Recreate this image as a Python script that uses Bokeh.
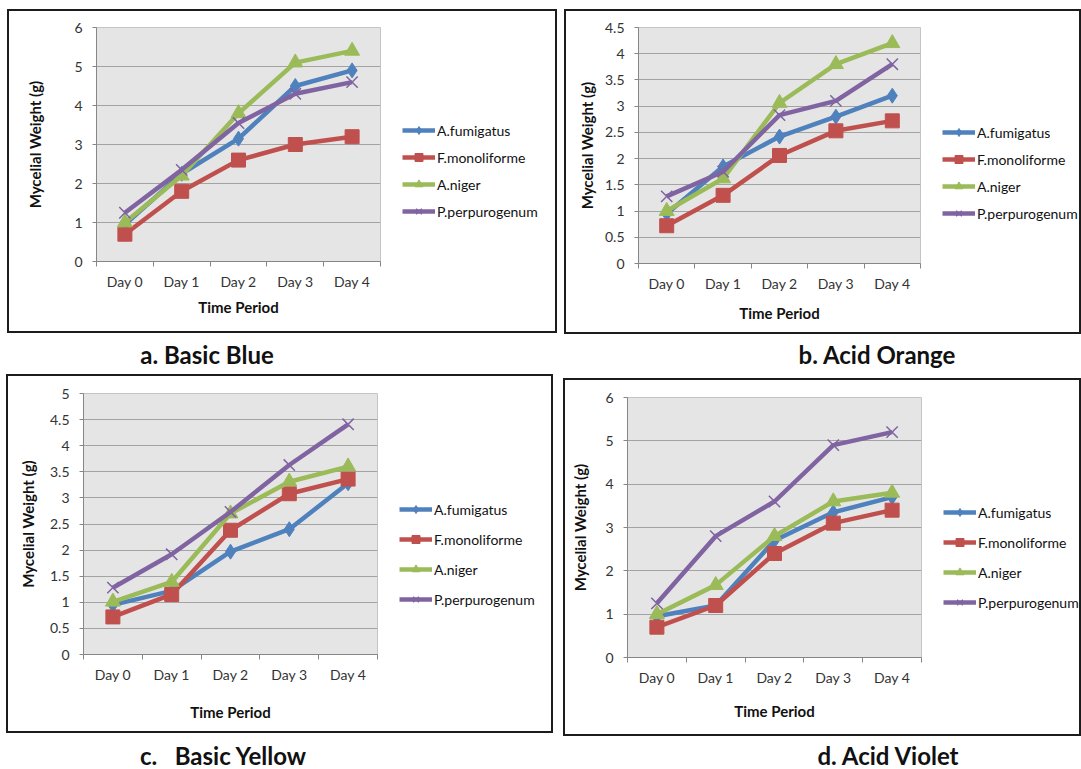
from bokeh.plotting import figure
from bokeh.models import (Range1d, FixedTicker, Legend, LegendItem, Div, Spacer,
                          NumeralTickFormatter)
from bokeh.layouts import row, column
from bokeh.embed import file_html
from bokeh.resources import INLINE

# ---- data -------------------------------------------------------------
days = ["Day 0", "Day 1", "Day 2", "Day 3", "Day 4"]
species = ["A.fumigatus", "F.monoliforme", "A.niger", "P.perpurogenum"]

# a. Basic Blue
blue_fumigatus = [0.95, 2.25, 3.15, 4.5, 4.9]
blue_monoliforme = [0.7, 1.8, 2.6, 3.0, 3.2]
blue_niger = [1.0, 2.2, 3.8, 5.1, 5.4]
blue_perpurogenum = [1.25, 2.35, 3.55, 4.3, 4.6]

# b. Acid Orange
orange_fumigatus = [0.95, 1.85, 2.42, 2.8, 3.2]
orange_monoliforme = [0.72, 1.3, 2.06, 2.53, 2.72]
orange_niger = [1.0, 1.62, 3.06, 3.8, 4.2]
orange_perpurogenum = [1.28, 1.75, 2.83, 3.1, 3.8]

# c. Basic Yellow
yellow_fumigatus = [0.95, 1.22, 1.97, 2.4, 3.28]
yellow_monoliforme = [0.72, 1.15, 2.38, 3.08, 3.36]
yellow_niger = [1.01, 1.39, 2.7, 3.31, 3.6]
yellow_perpurogenum = [1.28, 1.92, 2.73, 3.63, 4.41]

# d. Acid Violet
violet_fumigatus = [0.95, 1.2, 2.7, 3.35, 3.7]
violet_monoliforme = [0.7, 1.2, 2.4, 3.1, 3.4]
violet_niger = [1.0, 1.67, 2.8, 3.6, 3.8]
violet_perpurogenum = [1.25, 2.8, 3.6, 4.9, 5.2]

captions = ["a. Basic Blue", "b. Acid Orange", "c.   Basic Yellow", "d. Acid Violet"]

# ---- styling ----------------------------------------------------------
COLORS = ["#4F81BD", "#C0504D", "#9BBB59", "#8064A2"]
MARKERS = ["diamond", "square", "triangle", "x"]
SIZES = [15, 14, 15, 16]
FONT = "Lato"
AXIS_GREY = "#868686"
GAP = 4  # space right of the plot frame before the legend strip


def add_series(fig, xs, vals, color, marker, size):
    ln = fig.line(xs, vals, line_color=color, line_width=4.5, line_join="round")
    if marker == "x":
        mk = fig.scatter(xs, vals, marker=marker, size=size, line_color=color, line_width=1.5)
    else:
        mk = fig.scatter(xs, vals, marker=marker, size=size, fill_color=color, line_color=color)
    return ln, mk


def chart(series, ymax, ystep, fl, fw, fr, ft, fh, fb, leg_y, leg_sp,
          ylab_standoff, xlab_standoff, xtitle_standoff):
    xs = list(range(len(days)))
    height = ft + fh + fb
    p = figure(width=fl + fw + GAP, height=height,
               min_border_left=fl, min_border_right=GAP,
               min_border_top=ft, min_border_bottom=fb,
               x_range=Range1d(-0.5, len(days) - 0.5),
               y_range=Range1d(0, ymax),
               output_backend="svg", toolbar_location=None,
               background_fill_color="#e5e5e5", border_fill_color="white",
               outline_line_color="#c4c4c4")
    p.xgrid.visible = False
    p.ygrid.grid_line_color = "#a3a3a3"
    p.ygrid.grid_line_width = 1

    n = int(round(ymax / ystep))
    yticks = [i * ystep for i in range(n + 1)]
    p.yaxis.ticker = FixedTicker(ticks=yticks)
    p.yaxis.formatter = NumeralTickFormatter(format="0.[0]")
    p.xaxis.ticker = FixedTicker(ticks=xs, minor_ticks=[x - 0.5 for x in xs] + [xs[-1] + 0.5])
    p.xaxis.major_label_overrides = {x: d for x, d in zip(xs, days)}

    for ax in (p.xaxis[0], p.yaxis[0]):
        ax.axis_line_color = AXIS_GREY
        ax.major_tick_line_color = AXIS_GREY
        ax.minor_tick_line_color = AXIS_GREY
        ax.major_label_text_font = FONT
        ax.major_label_text_font_size = "14px"
        ax.major_label_text_color = "#333333"
        ax.axis_label_text_font = FONT
        ax.axis_label_text_font_style = "bold"
        ax.axis_label_text_font_size = "15px"
        ax.axis_label_text_color = "#111111"
    p.yaxis.major_tick_out = 4
    p.yaxis.major_tick_in = 0
    p.yaxis.minor_tick_out = 0
    p.yaxis.minor_tick_in = 0
    p.yaxis.major_label_standoff = 10
    p.yaxis.axis_label = "Mycelial Weight (g)"
    p.yaxis.axis_label_standoff = ylab_standoff
    p.xaxis.major_tick_out = 0
    p.xaxis.major_tick_in = 0
    p.xaxis.minor_tick_out = 5
    p.xaxis.minor_tick_in = 0
    p.xaxis.major_label_standoff = xlab_standoff
    p.xaxis.axis_label = "Time Period"
    p.xaxis.axis_label_standoff = xtitle_standoff

    for vals, c, m, s in zip(series, COLORS, MARKERS, SIZES):
        add_series(p, xs, vals, c, m, s)

    # legend strip to the right of the plot; its series sit outside its
    # visible range so only the legend entries show
    q = figure(width=fr - GAP, height=height, min_border=0,
               x_range=Range1d(-20, -19), y_range=Range1d(0, ymax),
               x_axis_location=None, y_axis_location=None,
               output_backend="svg", toolbar_location=None,
               background_fill_color="white", border_fill_color="white",
               outline_line_color=None)
    q.grid.visible = False
    items = []
    for name, vals, c, m in zip(species, series, COLORS, MARKERS):
        ln, mk = add_series(q, xs, vals, c, m, 9)
        items.append(LegendItem(label=name, renderers=[ln, mk]))
    leg = Legend(items=items, location=(22 - GAP, leg_y), orientation="vertical",
                 glyph_width=33, glyph_height=20, label_height=20, spacing=leg_sp,
                 padding=0, margin=0, border_line_color=None,
                 background_fill_alpha=0, label_standoff=2,
                 label_text_font=FONT, label_text_font_size="14px",
                 label_text_color="#111111")
    q.add_layout(leg)

    return row(p, q, styles={"border": "2px solid #1c1c1c"})


pa = chart([blue_fumigatus, blue_monoliforme, blue_niger, blue_perpurogenum],
           6, 1, 87, 284, 175, 16, 234, 70, 40, 7, 27, 6, 5)
pb = chart([orange_fumigatus, orange_monoliforme, orange_niger, orange_perpurogenum],
           4.5, 0.5, 72, 282, 159, 16, 236, 69, 40, 7, 6, 6, 9)
pc = chart([yellow_fumigatus, yellow_monoliforme, yellow_niger, yellow_perpurogenum],
           5, 0.5, 75, 294, 174, 17, 261, 77, 45, 10, 10, 6, 17)
pd = chart([violet_fumigatus, violet_monoliforme, violet_niger, violet_perpurogenum],
           6, 1, 62, 294, 158, 17, 260, 77, 45, 10, 13, 6, 13)


def caption(text, width, height, shift):
    return Div(text=text, width=width, height=height, margin=0,
               styles={"font-family": FONT, "font-weight": "bold", "font-size": "24px",
                       "text-align": "center", "line-height": f"{height}px",
                       "color": "#111111", "white-space": "pre",
                       "position": "relative", "top": f"{shift}px"})


layout = column(
    Spacer(height=9),
    row(Spacer(width=7), pa, Spacer(width=7), pb),
    row(caption(captions[0], 414, 40, 1), Spacer(width=260), caption(captions[1], 406, 40, 1)),
    row(Spacer(width=6), pc, Spacer(width=10), column(Spacer(height=4), pd)),
    row(caption(captions[2], 446, 33, 3), Spacer(width=250), caption(captions[3], 384, 33, 3)),
)

open("out.html", "w").write(file_html(layout, INLINE))
